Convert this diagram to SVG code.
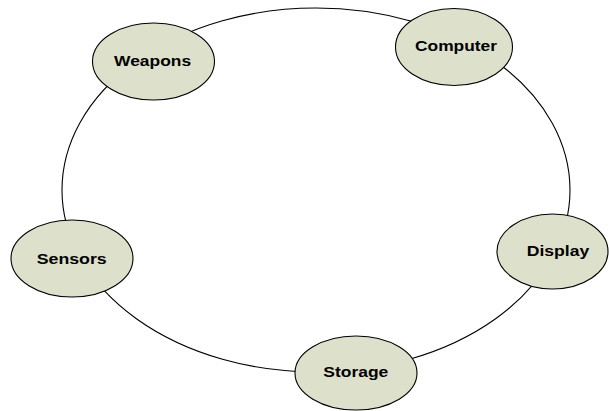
<svg xmlns="http://www.w3.org/2000/svg" width="609" height="411" viewBox="0 0 609 411">
  <style>
    .node { fill: #dde1cb; stroke: #000; stroke-width: 1.1; }
    .ring { fill: none; stroke: #000; stroke-width: 1.1; }
    .label { font-family: "Liberation Sans", Arial, sans-serif; font-weight: bold; font-size: 15.5px; fill: #000; text-anchor: middle; }
  </style>
  <rect width="609" height="411" fill="#fff"/>
  <g id="connectors">
    <ellipse class="ring" cx="316" cy="190" rx="254" ry="182"/>
  </g>
  <g id="weapons">
    <ellipse class="node" cx="153.5" cy="61.5" rx="61" ry="38.5"/>
    <text class="label" x="152.6" y="66.3" textLength="77" lengthAdjust="spacingAndGlyphs">Weapons</text>
  </g>
  <g id="computer">
    <ellipse class="node" cx="454" cy="47" rx="58.5" ry="38.5"/>
    <text class="label" x="456" y="50.7" textLength="82" lengthAdjust="spacingAndGlyphs">Computer</text>
  </g>
  <g id="sensors">
    <ellipse class="node" cx="72" cy="258.5" rx="61" ry="38.5"/>
    <text class="label" x="71.7" y="264.3" textLength="70" lengthAdjust="spacingAndGlyphs">Sensors</text>
  </g>
  <g id="display">
    <ellipse class="node" cx="552.5" cy="251.5" rx="55.5" ry="37.5"/>
    <text class="label" x="558" y="256" textLength="62.6" lengthAdjust="spacingAndGlyphs">Display</text>
  </g>
  <g id="storage">
    <ellipse class="node" cx="356" cy="373" rx="61" ry="37"/>
    <text class="label" x="355.8" y="377.3" textLength="65" lengthAdjust="spacingAndGlyphs">Storage</text>
  </g>
</svg>
